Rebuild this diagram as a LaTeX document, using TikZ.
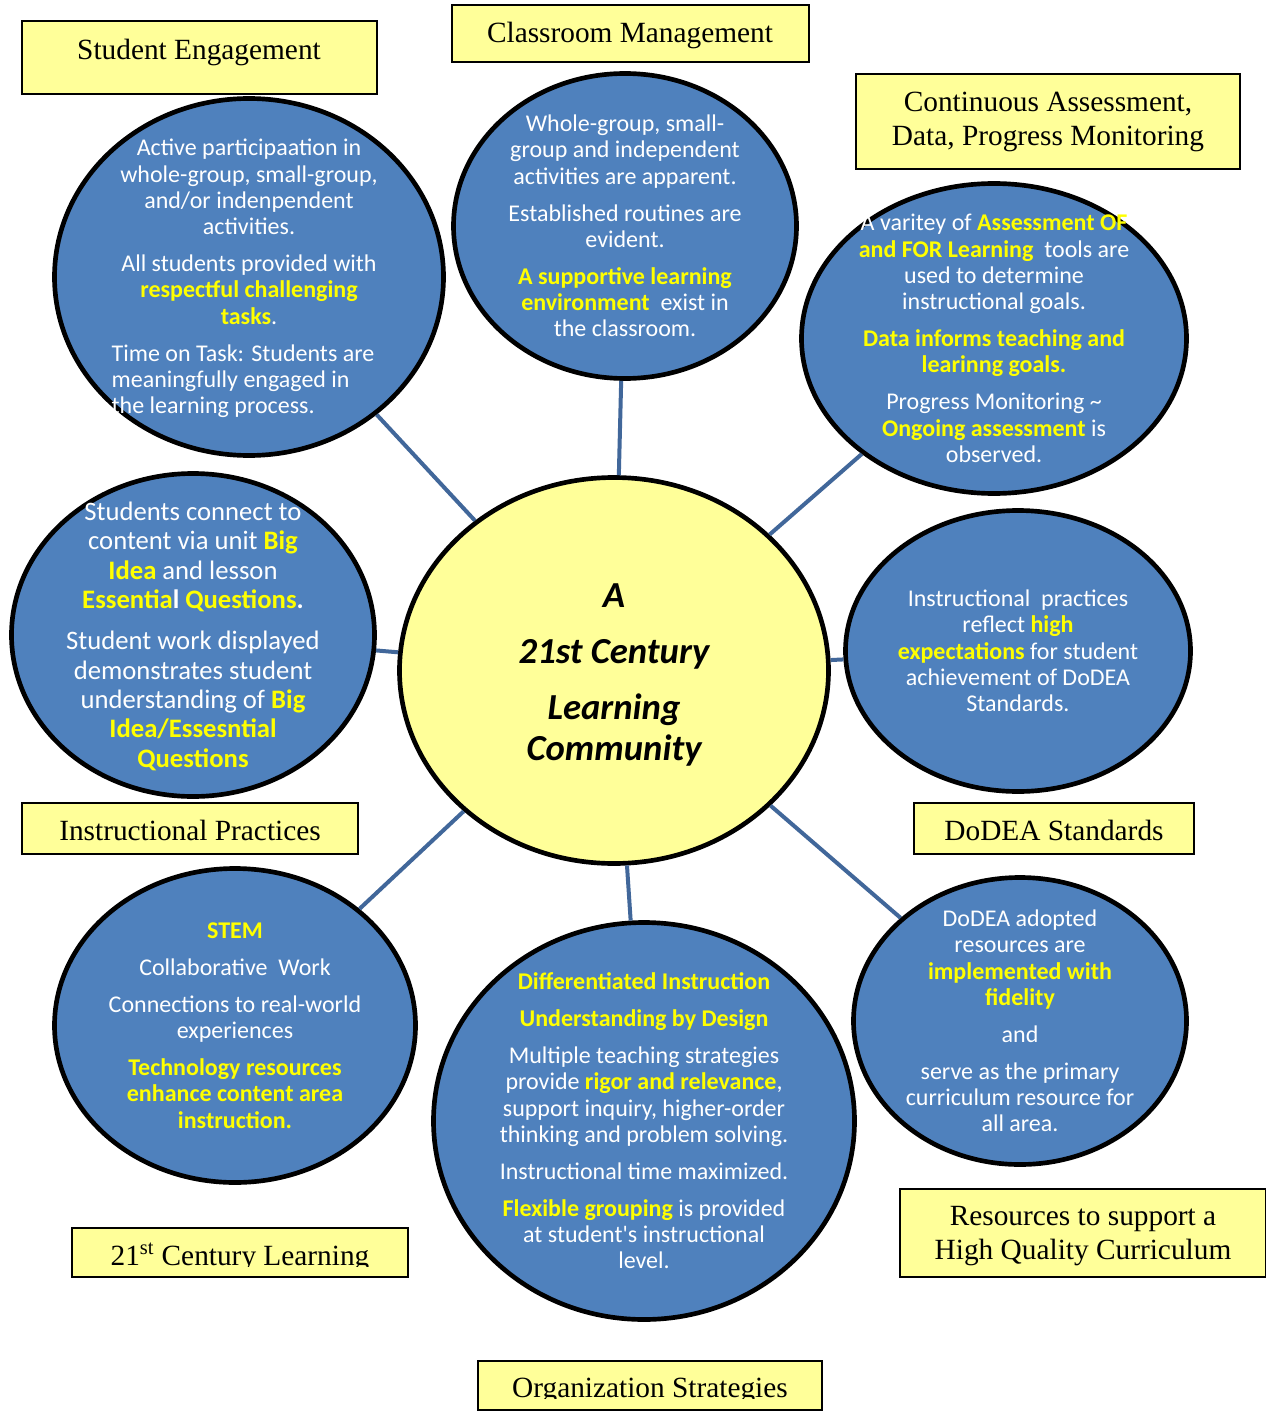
\documentclass[tikz,border=0pt]{standalone}
\usepackage{fontspec}
\setmainfont{Liberation Serif}
\newfontfamily\calfont{Carlito}
\usetikzlibrary{shapes.geometric}
\definecolor{cbubble}{HTML}{4F81BD}
\definecolor{clink}{HTML}{41679A}
\definecolor{cpale}{HTML}{FFFF99}
\definecolor{chi}{HTML}{FFFF00}
\newcommand\yb[1]{{\bfseries\color{chi}#1}}
\begin{document}
\begin{tikzpicture}[x=0.75pt,y=-0.75pt,
 bubble/.style={ellipse, draw=black, line width=3.5pt, fill=cbubble, inner sep=0pt},
 hub/.style={ellipse, draw=black, line width=3.5pt, fill=cpale, inner sep=0pt},
 link/.style={draw=clink, line width=3pt},
 catbox/.style={draw=black, fill=cpale, line width=1.5pt},
 cattext/.style={font=\fontsize{22}{25.5}\selectfont, align=center, inner sep=0pt, text=black},
 btext/.style={font=\calfont\fontsize{18}{19.7}\selectfont, align=center, inner sep=0pt, text=white},
 bigtext/.style={font=\calfont\fontsize{20}{22}\selectfont, align=center, inner sep=0pt, text=white},
 hubtext/.style={font=\calfont\bfseries\itshape\fontsize{27.5}{30.75}\selectfont, align=center, inner sep=0pt, text=black},
 ]
\useasboundingbox[fill=white] (0,0) rectangle (1265,1416);

% category boxes
\draw[catbox] (22,21) rectangle (377,94);
\draw[catbox] (452,5) rectangle (809,62);
\draw[catbox] (856,74) rectangle (1240,169);
\draw[catbox] (22,803) rectangle (358,854);
\draw[catbox] (914,803) rectangle (1194,854);
\draw[catbox] (72,1228) rectangle (408,1277);
\draw[catbox] (900,1189) rectangle (1266,1277);
\draw[catbox] (478,1361) rectangle (822,1410);

\node[cattext, anchor=base] (lse) at (199,60) {Student Engagement};
\node[cattext, anchor=base] (lcm) at (630,43) {Classroom Management};
\node[cattext] (lca) at (1048,122) {Continuous Assessment,\\Data, Progress Monitoring};
\node[cattext, anchor=base] (lip) at (190,840) {Instructional Practices};
\node[cattext, anchor=base] (lds) at (1054,840) {DoDEA Standards};
\begin{scope}
\clip (72,1228) rectangle (408,1266);
\node[cattext, anchor=base] (l21) at (240,1265) {21\textsuperscript{st} Century Learning};
\end{scope}
\node[cattext] (lres) at (1083,1236.5) {Resources to support a\\High Quality Curriculum};
\begin{scope}
\clip (478,1361) rectangle (822,1398);
\node[cattext, anchor=base] (los) at (650,1397) {Organization Strategies};
\end{scope}

% bubbles
\node[bubble, minimum width=291.75pt, minimum height=267.75pt] (se) at (249,277) {};
\node[bubble, minimum width=257.25pt, minimum height=228.75pt] (cm) at (625,226) {};
\node[bubble, minimum width=288.75pt, minimum height=232.5pt] (ca) at (994,338.5) {};
\node[bubble, minimum width=272.25pt, minimum height=242.25pt] (ip) at (193,635) {};
\node[hub, minimum width=321.75pt, minimum height=289.5pt] (hub) at (614,670.5) {};
\node[bubble, minimum width=258.75pt, minimum height=210.75pt] (ds) at (1018,651) {};
\node[bubble, minimum width=270.75pt, minimum height=235.5pt] (st) at (235,1025.5) {};
\node[bubble, minimum width=315.75pt, minimum height=297.75pt] (os) at (644,1121) {};
\node[bubble, minimum width=249.75pt, minimum height=215.25pt] (rs) at (1020,1021) {};

% connectors
\draw[link] (se) -- (hub);
\draw[link] (cm) -- (hub);
\draw[link] (ca) -- (hub);
\draw[link] (ip) -- (hub);
\draw[link] (ds) -- (hub);
\draw[link] (st) -- (hub);
\draw[link] (os) -- (hub);
\draw[link] (rs) -- (hub);

% bubble texts
\node[btext, yshift=-2.5pt] (tse) at (se.center) {Active participaation in\\ whole-group, small-group,\\ and/or indenpendent\\ activities.\\[8pt] All students provided with\\ \yb{respectful challenging}\\ \yb{tasks}.\\[8pt] \begin{tabular}[t]{@{}l@{}}Time on Task: Students are\\ meaningfully engaged in\\ the learning process.\end{tabular}\hspace*{9pt}};

\node[btext] (tcm) at (cm.center) {Whole-group, small-\\ group and independent\\ activities are apparent.\\[8pt] Established routines are\\ evident.\\[8pt] \yb{A supportive learning}\\ \yb{environment}~ exist in\\ the classroom.};

\node[btext] (tca) at (ca.center) {A varitey of \yb{Assessment OF}\\ \yb{and FOR Learning}~ tools are\\ used to determine\\ instructional goals.\\[8pt] \yb{Data informs teaching and}\\ \yb{learinng goals.}\\[8pt] Progress Monitoring \textasciitilde\\ \yb{Ongoing assessment} is\\ observed.};

\node[bigtext, yshift=-1pt] (tip) at (ip.center) {Students connect to\\ content via unit \yb{Big}\\ \yb{Idea} and lesson\\ \yb{Essentia}{\bfseries l} \yb{Questions}{\bfseries .}\\[9pt] Student work displayed\\ demonstrates student\\ understanding of \yb{Big}\\ \yb{Idea/Essesntial}\\ \yb{Questions}};

\node[hubtext, yshift=-3pt] (thub) at (hub.center) {A\\[11.25pt] 21st Century\\[11.25pt] Learning\\ Community};

\node[btext] (tds) at (ds.center) {Instructional~ practices\\ reflect \yb{high}\\ \yb{expectations} for student\\ achievement of DoDEA\\ Standards.};

\node[btext] (tst) at (st.center) {\yb{STEM}\\[8pt] Collaborative~ Work\\[8pt] Connections to real-world\\ experiences\\[8pt] \yb{Technology resources}\\ \yb{enhance content area}\\ \yb{instruction.}};

\node[btext] (tos) at (os.center) {\yb{Differentiated Instruction}\\[8pt] \yb{Understanding by Design}\\[8pt] Multiple teaching strategies\\ provide \yb{rigor and relevance},\\ support inquiry, higher-order\\ thinking and problem solving.\\[8pt] Instructional time maximized.\\[8pt] \yb{Flexible grouping} is provided\\ at student's instructional\\ level.};

\node[btext] (trs) at (rs.center) {DoDEA adopted\\ resources are\\ \yb{implemented with}\\ \yb{fidelity}\\[8pt] and\\[8pt] serve as the primary\\ curriculum resource for\\ all area.};
\end{tikzpicture}
\end{document}
